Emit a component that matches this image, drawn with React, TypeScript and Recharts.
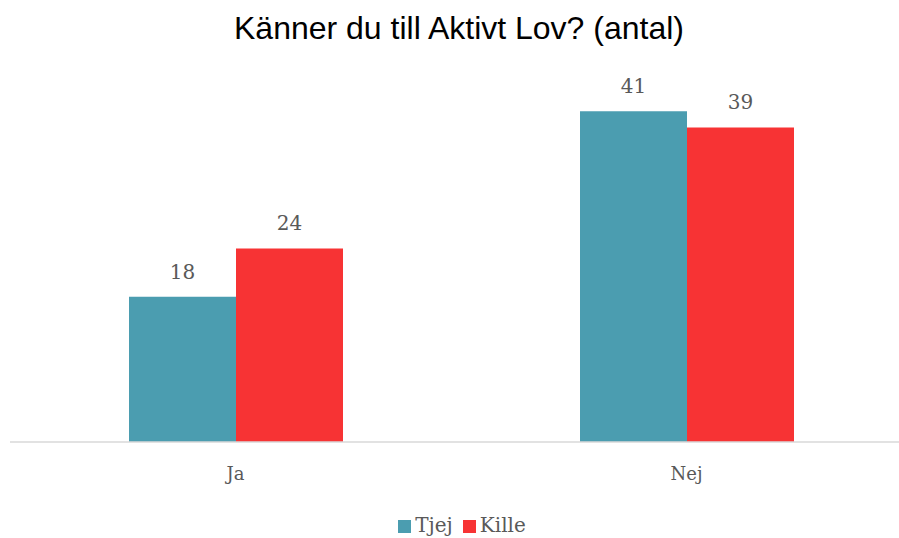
import React from 'react'
import { BarChart, Bar, XAxis, YAxis, Legend, LabelList } from 'recharts'

// Svar per kategori
const categories = ['Ja', 'Nej']
const tjej = [18, 41]
const kille = [24, 39]

const data = categories.map((name, i) => ({ name, Tjej: tjej[i], Kille: kille[i] }))

const SERIF = '"DejaVu Serif", Cambria, serif'
const TEXT = '#595959'

export default function App() {
  return (
    <div style={{ position: 'absolute', left: 0, top: 0, width: 899, height: 538, overflow: 'hidden', background: '#fff' }}>
      <div
        style={{
          position: 'absolute',
          left: 0,
          width: 918,
          top: 10,
          textAlign: 'center',
          fontFamily: '"Liberation Sans", Arial, sans-serif',
          fontSize: 32,
          color: '#000',
        }}
      >
        Känner du till Aktivt Lov? (antal)
      </div>
      <BarChart
        width={920}
        height={538}
        data={data}
        margin={{ top: 79, right: 8, bottom: 56, left: 10 }}
        barGap={0}
        barSize={107}
      >
        <XAxis
          dataKey="name"
          height={40}
          stroke="#D9D9D9"
          strokeWidth={1.5}
          tickLine={false}
          tickSize={0}
          tickMargin={25}
          fontSize={18}
          fontFamily={SERIF}
          tick={{ fill: TEXT, fontFamily: SERIF, fontSize: 18 }}
        />
        <YAxis hide domain={[0, 45]} />
        <Legend
          layout="horizontal"
          verticalAlign="middle"
          align="center"
          iconType="square"
          iconSize={13}
          itemSorter={null}
          wrapperStyle={{ top: 513, left: 0, width: 934, fontFamily: SERIF, fontSize: 20 }}
          formatter={(v) => <span style={{ color: TEXT }}>{v}</span>}
        />
        <Bar dataKey="Tjej" fill="#4B9DB0" isAnimationActive={false}>
          <LabelList dataKey="Tjej" position="top" offset={18} fill={TEXT} fontFamily={SERIF} fontSize={20} />
        </Bar>
        <Bar dataKey="Kille" fill="#F73334" isAnimationActive={false}>
          <LabelList dataKey="Kille" position="top" offset={18} fill={TEXT} fontFamily={SERIF} fontSize={20} />
        </Bar>
      </BarChart>
    </div>
  )
}
